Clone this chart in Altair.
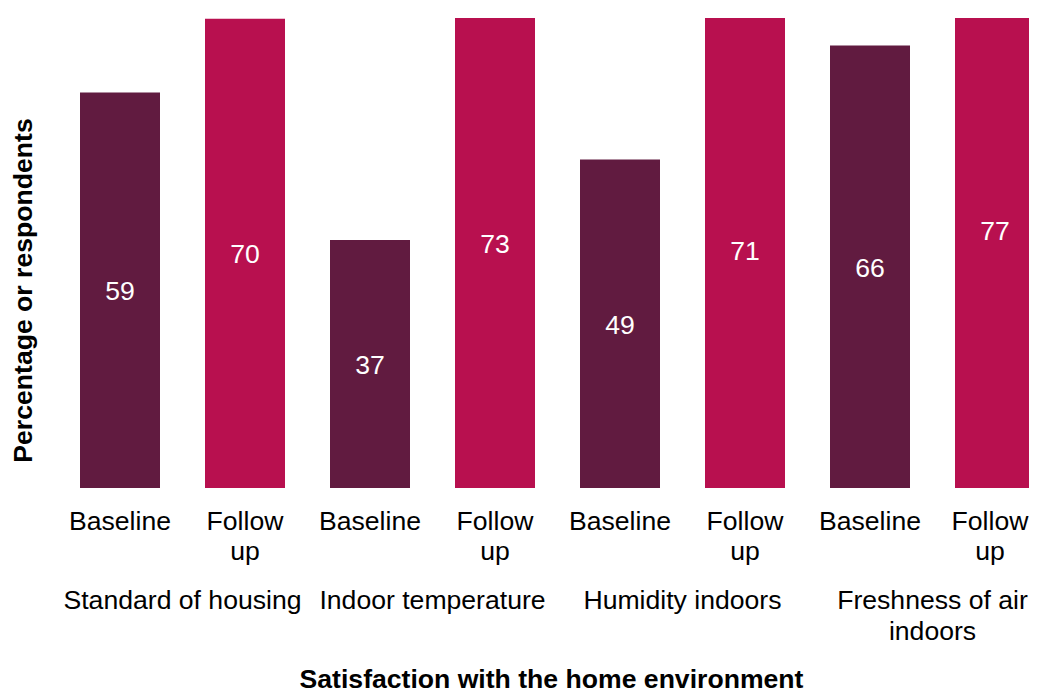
import altair as alt
import pandas as pd

groups = ["Standard of housing", "Indoor temperature", "Humidity indoors", "Freshness of air indoors"]
periods = ["Baseline", "Follow up"]
baseline = [59, 37, 49, 66]
follow_up = [70, 73, 71, 77]
colors = ["#611B40", "#B8104F"]

rows = []
for g, b, f in zip(groups, baseline, follow_up):
    rows.append({"group": g, "period": periods[0], "value": b, "key": g + "|" + periods[0]})
    rows.append({"group": g, "period": periods[1], "value": f, "key": g + "|" + periods[1]})
df = pd.DataFrame(rows)
keys = list(df["key"])
gdf = pd.DataFrame({"group": groups})

FONT = "Liberation Sans"
FS = 26.6
LAST_KEY = keys[-1]

x_key = alt.X(
    "key:N", sort=keys,
    scale=alt.Scale(paddingInner=0.36, paddingOuter=0.18, align=1, range=[0, 1000]),
    axis=alt.Axis(
        orient="bottom", domain=False, ticks=False, tickSize=0, grid=False,
        labelPadding=20, labelFontSize=FS, labelFont=FONT, labelColor="#000000",
        labelAngle=0, labelLineHeight=30, labelBaseline="top", labelOverlap=False, labelLimit=400,
        labelOffset={"condition": {"test": f"datum.value == '{LAST_KEY}'", "value": -5}, "value": 0},
        labelExpr="split(datum.label, '|')[1] == 'Follow up' ? ['Follow', 'up'] : split(datum.label, '|')[1]",
        title="Satisfaction with the home environment", titleFont=FONT, titleFontSize=FS,
        titleFontWeight="bold", titleColor="#000000", titleX=516, titleY=199,
        titleAlign="center", titleBaseline="alphabetic",
    ),
)

y_axis = alt.Axis(
    title="Percentage or respondents", labels=False, ticks=False, domain=False, grid=False,
    titleX=-12, titleY=272, titleAngle=270, titleAlign="center", titleBaseline="middle",
    titleFont=FONT, titleFontSize=FS, titleFontWeight="bold", titleColor="#000000",
)

bars = alt.Chart(df).mark_bar(clip=True).encode(
    x=x_key,
    y=alt.Y("value:Q", scale=alt.Scale(domain=[0, 70.1], nice=False), axis=y_axis),
    color=alt.Color("period:N", scale=alt.Scale(domain=periods, range=colors), legend=None),
)

labels = alt.Chart(df).transform_calculate(mid="datum.value / 2").mark_text(
    color="#FFFFFF", font=FONT, fontSize=FS, baseline="middle", align="center", dy=2
).encode(
    x=alt.X("key:N", sort=keys),
    y=alt.Y("mid:Q"),
    text=alt.Text("value:Q"),
)

group_layer = alt.Chart(gdf).mark_text(text=" ", opacity=0).encode(
    x=alt.X(
        "group:N", sort=groups,
        scale=alt.Scale(type="band", paddingInner=0.18, paddingOuter=0.09, align=1, range=[0, 1000]),
        axis=alt.Axis(
            orient="bottom", title=None, domain=False, ticks=False, tickSize=0, grid=False,
            labelPadding=99, labelFontSize=FS, labelFont=FONT, labelColor="#000000",
            labelAngle=0, labelLineHeight=31, labelBaseline="top", labelOverlap=False, labelLimit=400,
            labelExpr="datum.label == 'Freshness of air indoors' ? ['Freshness of air', 'indoors'] : datum.label",
        ),
    ),
    y=alt.value(0),
)

chart = alt.layer(alt.layer(bars, labels), group_layer).resolve_scale(x="independent").properties(
    width=994, height=470,
    autosize=alt.AutoSizeParams(type="none"),
    padding={"left": 27, "top": 10, "right": 0, "bottom": 205},
).configure(font=FONT, view=alt.ViewConfig(stroke=None))

chart.save("out.html", embed_options={"renderer": "svg", "actions": False})
